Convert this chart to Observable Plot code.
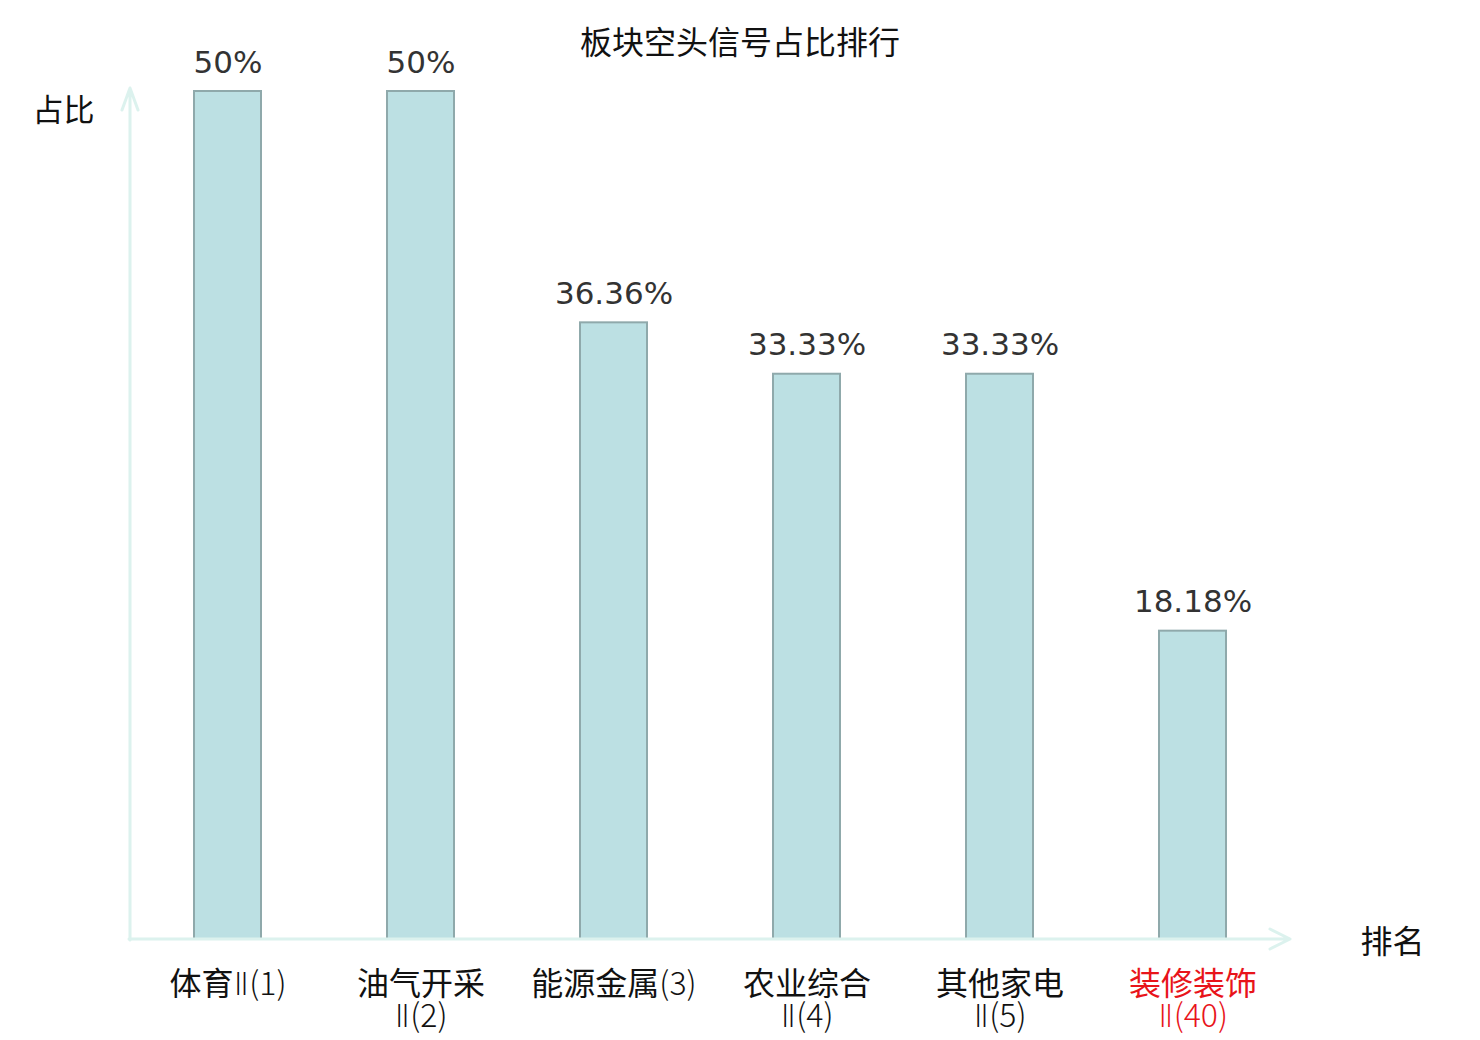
<!DOCTYPE html>
<html>
<head>
<meta charset="utf-8">
<script src="https://cdn.jsdelivr.net/npm/d3@7"></script>
<script src="https://cdn.jsdelivr.net/npm/@observablehq/plot@0.6"></script>
<style>
  html, body { margin: 0; padding: 0; background: #fff; }
  #chart { width: 1480px; height: 1040px; }
  .thin { font-weight: 300; }
  .roman { font-family: 'DejaVu Sans', sans-serif; font-weight: 200; }
</style>
</head>
<body>
<div id="chart"></div>
<script>
const title = "板块空头信号占比排行";
const yLabel = "占比";
const xLabel = "排名";
const sectors = ["体育Ⅱ", "油气开采Ⅱ", "能源金属", "农业综合Ⅱ", "其他家电Ⅱ", "装修装饰Ⅱ"];
const ranks = [1, 2, 3, 4, 5, 40];
const shares = [50, 50, 36.36, 33.33, 33.33, 18.18];
const shareLabels = ["50%", "50%", "36.36%", "33.33%", "33.33%", "18.18%"];
const tickLabels = ["体育Ⅱ(1)", "油气开采\nⅡ(2)", "能源金属(3)", "农业综合\nⅡ(4)", "其他家电\nⅡ(5)", "装修装饰\nⅡ(40)"];
const highlight = "装修装饰Ⅱ";

const data = sectors.map((s, i) => ({ sector: s, rank: ranks[i], share: shares[i], label: shareLabels[i] }));

const axisColor = "#dcf2ee";

function axisArrows(index, scales, values, dims) {
  const { marginLeft, marginRight, marginBottom, width, height } = dims;
  const x0 = marginLeft, y0 = height - marginBottom, x1 = width - marginRight;
  const yTop = scales.y(50) - 3;
  const g = d3.create("svg:g")
    .attr("fill", "none")
    .attr("stroke", axisColor)
    .attr("stroke-width", 3)
    .attr("stroke-linecap", "round")
    .attr("stroke-linejoin", "round");
  g.append("path").attr("d", `M${x0},${y0 + 1}V${yTop}M${x0 - 8},${yTop + 22}L${x0},${yTop}L${x0 + 8},${yTop + 22}`);
  g.append("path").attr("d", `M${x0 - 1},${y0}H${x1}M${x1 - 20},${y0 - 10}L${x1},${y0}L${x1 - 20},${y0 + 10}`);
  return g.node();
}

const chart = Plot.plot({
  width: 1480,
  height: 1040,
  marginLeft: 130,
  marginRight: 190,
  marginTop: 91,
  marginBottom: 101,
  style: { fontFamily: "'Noto Sans CJK SC', sans-serif", fontSize: "32px", background: "#fff" },
  x: { domain: sectors, paddingInner: 0.653, paddingOuter: 0.3265, axis: null },
  y: { domain: [0, 50], axis: null },
  marks: [
    Plot.barY(data, { x: "sector", y: "share", fill: "#bce0e3", stroke: "#8fa9ab", strokeWidth: 2 }),
    axisArrows,
    Plot.text(data, {
      x: "sector", y: "share", text: "label",
      lineAnchor: "bottom", dy: -19,
      fontFamily: "'DejaVu Sans', sans-serif", fontSize: 31, fill: "#333"
    }),
    Plot.axisX({
      tickSize: 0, tickPadding: 32, fontSize: 32, lineHeight: 1.02,
      tickFormat: d => tickLabels[sectors.indexOf(d)],
      fill: d => d === highlight ? "#e8141a" : "#111",
      label: null
    }),
    Plot.text([title], { frameAnchor: "top", dx: 29.5, dy: -38, lineAnchor: "bottom", fontSize: 32, fill: "#111" }),
    Plot.text([yLabel], { frameAnchor: "top-left", textAnchor: "middle", dx: -67, dy: 29, lineAnchor: "bottom", fontSize: 31, fill: "#111" }),
    Plot.text([xLabel], { frameAnchor: "bottom-right", textAnchor: "middle", dx: 102, dy: 13, lineAnchor: "bottom", fontSize: 32, fill: "#111" })
  ]
});

document.getElementById("chart").appendChild(chart);

// lighter weight for the roman numeral / rank part of tick labels
const NS = "http://www.w3.org/2000/svg";
const splitRe = /^([\u4e00-\u9fff]*)(Ⅱ?)(.*)$/;
function span(text, cls) {
  const s = document.createElementNS(NS, "tspan");
  s.textContent = text;
  if (cls) s.setAttribute("class", cls);
  return s;
}
function thinify(el) {
  const m = el.textContent.match(splitRe);
  if (!m || (!m[2] && !m[3])) return;
  el.textContent = "";
  if (m[1]) el.appendChild(span(m[1]));
  if (m[2]) el.appendChild(span(m[2], "roman"));
  if (m[3]) el.appendChild(span(m[3], "thin"));
}
chart.querySelectorAll('g[aria-label="x-axis tick label"] text').forEach(t => {
  const spans = t.querySelectorAll("tspan");
  if (spans.length) spans.forEach(thinify); else thinify(t);
});
</script>
</body>
</html>
